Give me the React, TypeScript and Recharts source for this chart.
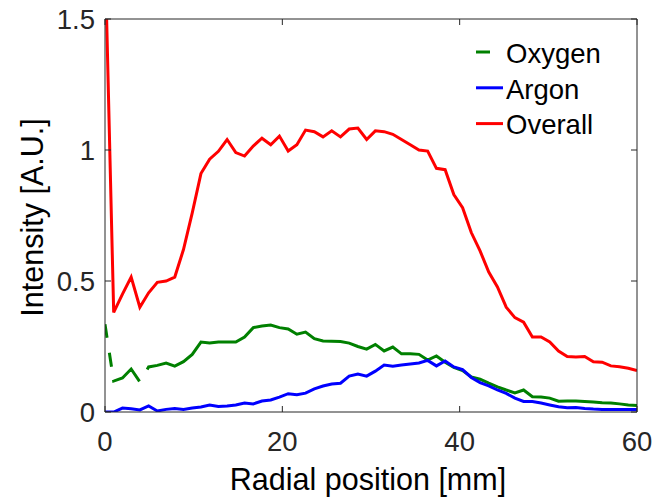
import React from 'react';
import { LineChart, Line, XAxis, YAxis, Legend, Label } from 'recharts';

const radialPositions = [
  0, 0.98, 1.97, 2.95, 3.93, 4.92, 5.9, 6.89, 7.87, 8.85,
  9.84, 10.82, 11.8, 12.79, 13.77, 14.75, 15.74, 16.72, 17.7, 18.69,
  19.67, 20.66, 21.64, 22.62, 23.61, 24.59, 25.57, 26.56, 27.54, 28.52,
  29.51, 30.49, 31.48, 32.46, 33.44, 34.43, 35.41, 36.39, 37.38, 38.36,
  39.34, 40.33, 41.31, 42.3, 43.28, 44.26, 45.25, 46.23, 47.21, 48.2,
  49.18, 50.16, 51.15, 52.13, 53.11, 54.1, 55.08, 56.07, 57.05, 58.03,
  59.02, 60,
];

const oxygen = [
  0.335, 0.118, 0.13, 0.164, 0.115, 0.172, 0.178, 0.187, 0.175, 0.192,
  0.22, 0.267, 0.263, 0.267, 0.267, 0.267, 0.286, 0.322, 0.328, 0.332,
  0.322, 0.317, 0.297, 0.305, 0.28, 0.271, 0.27, 0.269, 0.263, 0.25,
  0.24, 0.258, 0.233, 0.248, 0.222, 0.222, 0.22, 0.198, 0.214, 0.19,
  0.17, 0.158, 0.134, 0.125, 0.11, 0.096, 0.084, 0.073, 0.084, 0.058,
  0.057, 0.053, 0.041, 0.042, 0.042, 0.04, 0.038, 0.035, 0.034, 0.031,
  0.027, 0.025,
];

const argon = [
  0.0, 0.0, 0.015, 0.012, 0.008, 0.023, 0.004, 0.01, 0.013, 0.01,
  0.015, 0.019, 0.027, 0.021, 0.023, 0.027, 0.034, 0.031, 0.042, 0.046,
  0.057, 0.07, 0.066, 0.072, 0.088, 0.099, 0.107, 0.11, 0.137, 0.145,
  0.137, 0.156, 0.179, 0.175, 0.179, 0.183, 0.187, 0.197, 0.176, 0.195,
  0.172, 0.162, 0.132, 0.112, 0.1, 0.084, 0.071, 0.053, 0.04, 0.04,
  0.034, 0.027, 0.02, 0.016, 0.017, 0.013, 0.011, 0.01, 0.01, 0.01,
  0.01, 0.01,
];

const overall = [
  1.76, 0.38, 0.45, 0.515, 0.4, 0.455, 0.495, 0.5, 0.515, 0.62,
  0.76, 0.91, 0.965, 0.995, 1.04, 0.99, 0.977, 1.015, 1.045, 1.02,
  1.053, 0.996, 1.02, 1.076, 1.07, 1.05, 1.073, 1.05, 1.08, 1.084,
  1.04, 1.073, 1.07, 1.06, 1.04, 1.02, 1.0, 0.996, 0.93, 0.925,
  0.83, 0.78, 0.685, 0.615, 0.534, 0.477, 0.4, 0.36, 0.343, 0.286,
  0.286, 0.267, 0.233, 0.212, 0.21, 0.212, 0.192, 0.19, 0.176, 0.173,
  0.167, 0.158,
];

const seriesNames = ['Oxygen', 'Argon', 'Overall'];
const xTicks = [0, 20, 40, 60];
const yTicks = [0, 0.5, 1, 1.5];

const GREEN = '#008000';
const BLUE = '#0000ff';
const RED = '#ff0000';
const AXIS = '#262626';
const FONT = '"Liberation Sans", Arial, Helvetica, sans-serif';
const GREEN_DASH = '13.6 15.2 14.2 13.2 38 15 6000';

const data = radialPositions.map((r, i) => ({
  r,
  oxygen: oxygen[i],
  argon: argon[i],
  overall: overall[i],
}));

const seriesColors = [GREEN, BLUE, RED];

const renderLegend = () => (
  <svg width={654} height={160} style={{ display: 'block', overflow: 'visible' }}>
    {seriesNames.map((n, i) => {
      const ly = 52 + i * 35.8;
      const by = 63 + i * 35.5;
      return (
        <g key={n}>
          <line
            x1={476}
            x2={503}
            y1={ly}
            y2={ly}
            stroke={seriesColors[i]}
            strokeWidth={3}
            strokeDasharray={i === 0 ? '14 15' : undefined}
          />
          <text x={506} y={by} fontSize={27.5} fontFamily={FONT} fill="#000">
            {n}
          </text>
        </g>
      );
    })}
  </svg>
);

const noTick = () => <g />;

export default function App() {
  return (
    <div style={{ position: 'absolute', left: 0, top: 0, width: 654, height: 497, background: '#fff' }}>
      <LineChart
        width={654}
        height={497}
        data={data}
        margin={{ top: 18, right: 16, bottom: 25, left: 5 }}
        style={{ fontFamily: FONT }}
      >
        <XAxis
          xAxisId="b"
          dataKey="r"
          type="number"
          domain={[0, 60]}
          ticks={xTicks}
          interval={0}
          allowDataOverflow
          height={60}
          tickSize={-6}
          tickMargin={25}
          axisLine={{ stroke: AXIS, strokeWidth: 1 }}
          tickLine={{ stroke: AXIS, strokeWidth: 1 }}
          tick={{ fill: AXIS, fontSize: 27.5, fontFamily: FONT }}
        >
          <Label
            content={() => (
              <text x={368} y={490} textAnchor="middle" fontSize={30.5} fontFamily={FONT} fill="#000">
                Radial position [mm]
              </text>
            )}
          />
        </XAxis>
        <XAxis
          xAxisId="t"
          orientation="top"
          dataKey="r"
          type="number"
          domain={[0, 60]}
          ticks={xTicks}
          interval={0}
          allowDataOverflow
          height={1}
          tickSize={-6}
          axisLine={{ stroke: AXIS, strokeWidth: 1 }}
          tickLine={{ stroke: AXIS, strokeWidth: 1 }}
          tick={noTick}
        />
        <YAxis
          yAxisId="l"
          type="number"
          domain={[0, 1.5]}
          ticks={yTicks}
          interval={0}
          allowDataOverflow
          width={100}
          tickSize={-6}
          tickMargin={16}
          axisLine={{ stroke: AXIS, strokeWidth: 1 }}
          tickLine={{ stroke: AXIS, strokeWidth: 1 }}
          tick={{ fill: AXIS, fontSize: 27.5, fontFamily: FONT }}
        >
          <Label
            content={() => (
              <text
                x={43}
                y={217.5}
                transform="rotate(-90 43 217.5)"
                textAnchor="middle"
                fontSize={30.5}
                fontFamily={FONT}
                fill="#000"
              >
                Intensity [A.U.]
              </text>
            )}
          />
        </YAxis>
        <YAxis
          yAxisId="r"
          orientation="right"
          type="number"
          domain={[0, 1.5]}
          ticks={yTicks}
          interval={0}
          allowDataOverflow
          width={1}
          tickSize={-6}
          axisLine={{ stroke: AXIS, strokeWidth: 1 }}
          tickLine={{ stroke: AXIS, strokeWidth: 1 }}
          tick={noTick}
        />
        <Line
          xAxisId="b"
          yAxisId="l"
          type="linear"
          dataKey="oxygen"
          name="Oxygen"
          stroke={GREEN}
          strokeWidth={3}
          strokeDasharray={GREEN_DASH}
          dot={false}
          activeDot={false}
          isAnimationActive={false}
        />
        <Line
          xAxisId="b"
          yAxisId="l"
          type="linear"
          dataKey="argon"
          name="Argon"
          stroke={BLUE}
          strokeWidth={3}
          dot={false}
          activeDot={false}
          isAnimationActive={false}
        />
        <Line
          xAxisId="b"
          yAxisId="l"
          type="linear"
          dataKey="overall"
          name="Overall"
          stroke={RED}
          strokeWidth={3}
          dot={false}
          activeDot={false}
          isAnimationActive={false}
        />
        <Legend
          layout="horizontal"
          verticalAlign="middle"
          align="center"
          content={renderLegend}
          wrapperStyle={{ position: 'absolute', left: 0, top: 0, width: 654, height: 160, pointerEvents: 'none' }}
        />
      </LineChart>
    </div>
  );
}
